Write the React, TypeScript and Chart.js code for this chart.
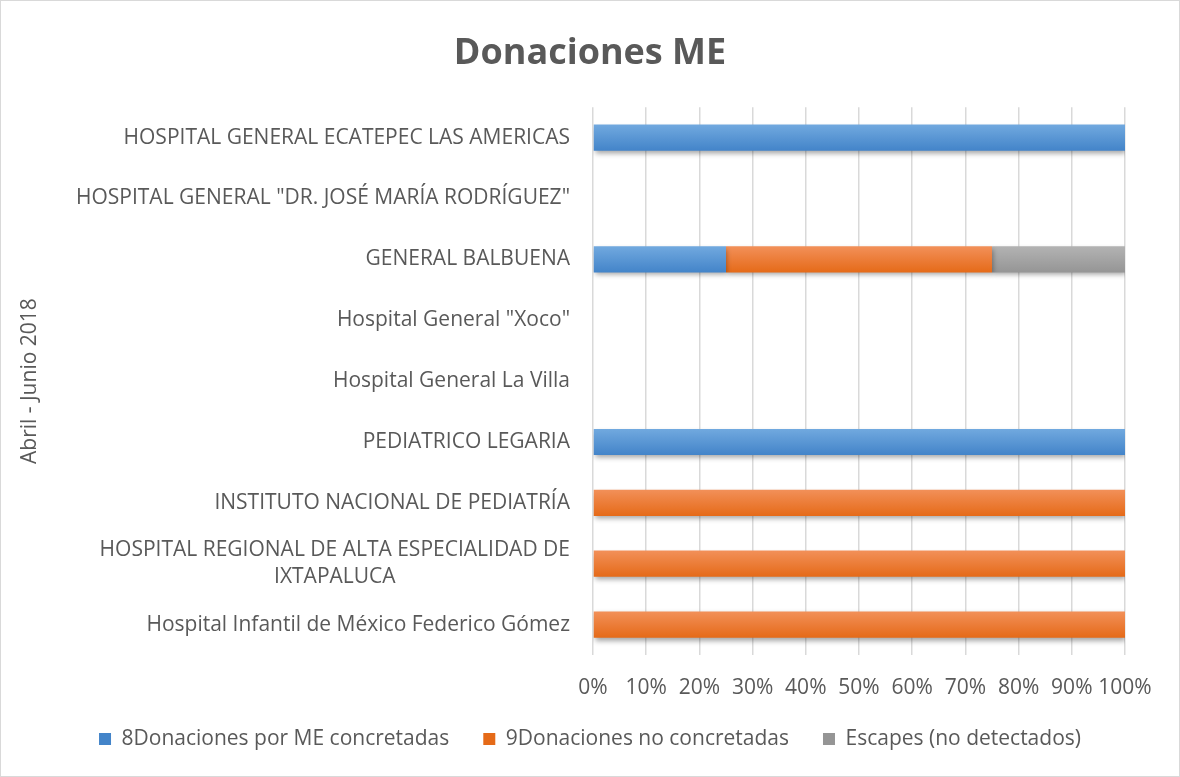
import React, { useEffect, useRef } from 'react';
import { Chart, registerables } from 'chart.js';

Chart.register(...registerables);

const chartTitle = 'Donaciones ME';
const axisTitle = 'Abril - Junio 2018';

const categories: (string | string[])[] = [
  'HOSPITAL GENERAL ECATEPEC LAS AMERICAS',
  'HOSPITAL GENERAL "DR. JOSÉ MARÍA RODRÍGUEZ"',
  'GENERAL BALBUENA',
  'Hospital General "Xoco"',
  'Hospital General La Villa',
  'PEDIATRICO LEGARIA',
  'INSTITUTO NACIONAL DE PEDIATRÍA',
  ['HOSPITAL REGIONAL DE ALTA ESPECIALIDAD DE', 'IXTAPALUCA'],
  'Hospital Infantil de México Federico Gómez',
];

const seriesNames = [
  '8Donaciones por ME concretadas',
  '9Donaciones no concretadas',
  'Escapes (no detectados)',
];

const concretadas = [100, 0, 25, 0, 0, 100, 0, 0, 0];
const noConcretadas = [0, 0, 50, 0, 0, 0, 100, 100, 100];
const escapes = [0, 0, 25, 0, 0, 0, 0, 0, 0];

const xTickValues = [0, 10, 20, 30, 40, 50, 60, 70, 80, 90, 100];

const FONT = '"Open Sans", sans-serif';
const TEXT = '#595959';
const BAR_PCT = 0.43;
const LABEL_SIZE = 21;
const Y_TICK_PAD = 23;

const gradient = (top: string, bottom: string, mid: string) => (ctx: any) => {
  const chart = ctx.chart;
  const y = chart.scales && chart.scales.y;
  if (!chart.chartArea || !y || ctx.dataIndex === undefined || ctx.type !== 'data') return mid;
  const c = y.getPixelForValue(ctx.dataIndex);
  const band = (chart.chartArea.bottom - chart.chartArea.top) / categories.length;
  const half = (band * BAR_PCT) / 2;
  const g = chart.ctx.createLinearGradient(0, c - half, 0, c + half);
  g.addColorStop(0, top);
  g.addColorStop(1, bottom);
  return g;
};

const shadowPlugin = {
  id: 'barShadow',
  beforeDatasetsDraw(chart: any) {
    const c = chart.ctx;
    c.save();
    c.shadowColor = 'rgba(0,0,0,0.35)';
    c.shadowBlur = 5;
    c.shadowOffsetX = 1;
    c.shadowOffsetY = 3;
  },
  afterDatasetsDraw(chart: any) {
    chart.ctx.restore();
  },
};

// Category labels: lines of a wrapped label are centred on each other, right edge at the axis
const yLabelPlugin = {
  id: 'yCategoryLabels',
  afterDraw(chart: any) {
    const s = chart.scales.y;
    const c = chart.ctx;
    c.save();
    c.font = `${LABEL_SIZE}px ${FONT}`;
    c.fillStyle = TEXT;
    c.textAlign = 'center';
    c.textBaseline = 'middle';
    const right = s.right - Y_TICK_PAD;
    const lh = 27;
    categories.forEach((lab, i) => {
      const lines = Array.isArray(lab) ? lab : [lab];
      const w = Math.max(...lines.map((l) => c.measureText(l).width));
      const cx = right - w / 2;
      const cy = s.getPixelForValue(i);
      lines.forEach((l, k) => c.fillText(l, cx, cy + (k - (lines.length - 1) / 2) * lh));
    });
    c.restore();
  },
};

export default function App() {
  const ref = useRef<HTMLCanvasElement | null>(null);

  useEffect(() => {
    document.body.style.margin = '0';
    if (!ref.current) return;
    const chart = new Chart(ref.current, {
      type: 'bar',
      data: {
        labels: categories as any,
        datasets: [
          {
            label: seriesNames[0],
            data: concretadas,
            backgroundColor: gradient('#71a9df', '#4384c9', '#5b9bd5') as any,
            borderWidth: 0,
          },
          {
            label: seriesNames[1],
            data: noConcretadas,
            backgroundColor: gradient('#f29059', '#e56a18', '#ed7d31') as any,
            borderWidth: 0,
          },
          {
            label: seriesNames[2],
            data: escapes,
            backgroundColor: gradient('#b3b3b3', '#959595', '#a5a5a5') as any,
            borderWidth: 0,
          },
        ],
      },
      plugins: [shadowPlugin, yLabelPlugin],
      options: {
        indexAxis: 'y',
        responsive: false,
        maintainAspectRatio: false,
        animation: false,
        categoryPercentage: 1,
        barPercentage: BAR_PCT,
        layout: { padding: { left: 8, right: 8, top: 0, bottom: 16.5 } },
        plugins: {
          title: {
            display: true,
            text: chartTitle,
            color: TEXT,
            font: { family: FONT, size: 36, weight: 'bold' },
            padding: { top: 31, bottom: 32 },
          },
          legend: {
            position: 'bottom',
            labels: {
              color: TEXT,
              font: { family: FONT, size: LABEL_SIZE },
              boxWidth: 12,
              boxHeight: 12,
              padding: 34,
            },
          },
          tooltip: { enabled: false },
        },
        scales: {
          x: {
            stacked: true,
            min: 0,
            max: 100,
            afterBuildTicks: (s: any) => {
              s.ticks = xTickValues.map((v) => ({ value: v }));
            },
            ticks: {
              color: TEXT,
              font: { family: FONT, size: LABEL_SIZE },
              padding: 20,
              maxRotation: 0,
              autoSkip: false,
              callback: (v: any) => `${v}%`,
            },
            grid: { color: '#d9d9d9', lineWidth: 1.5, drawTicks: false },
            border: { display: false },
            afterFit: (s: any) => {
              s.height = 39.5;
            },
          },
          y: {
            stacked: true,
            grid: { display: false, drawTicks: false },
            border: { display: false },
            ticks: { display: false },
            title: {
              display: true,
              text: axisTitle,
              color: TEXT,
              font: { family: FONT, size: LABEL_SIZE },
              padding: { top: 8, bottom: 0 },
            },
            afterFit: (s: any) => {
              s.width = 584;
            },
          },
          yR: {
            type: 'category',
            position: 'right',
            display: true,
            grid: { display: false, drawTicks: false },
            border: { display: false },
            ticks: { display: false },
            afterFit: (s: any) => {
              s.width = 46;
            },
          },
        },
      } as any,
    });
    return () => chart.destroy();
  }, []);

  return (
    <div
      style={{
        position: 'absolute',
        left: 0,
        top: 0,
        width: 1180,
        height: 777,
        boxSizing: 'border-box',
        border: '1px solid #d9d9d9',
        background: '#fff',
      }}
    >
      <canvas ref={ref} width={1178} height={775} style={{ display: 'block' }} />
    </div>
  );
}
